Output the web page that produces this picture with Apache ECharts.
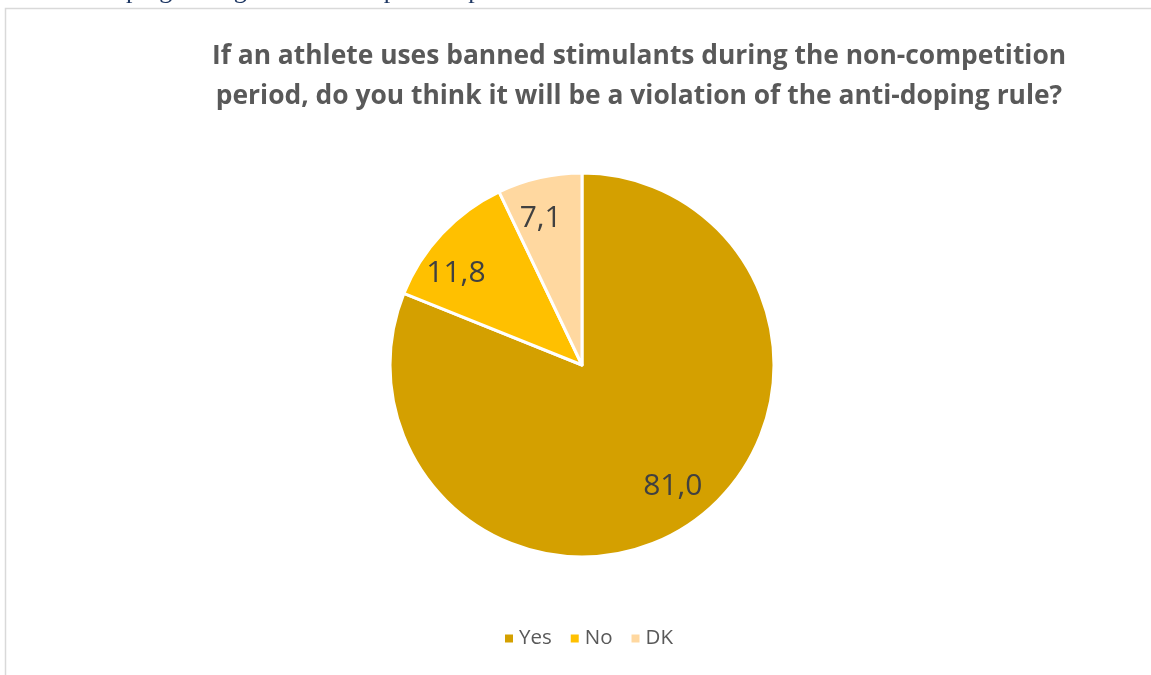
<!DOCTYPE html>
<html>
<head>
<meta charset="utf-8">
<script src="https://cdn.jsdelivr.net/npm/echarts@6/dist/echarts.min.js"></script>
<style>
html,body{margin:0;padding:0;background:#fff;}
#main{width:1151px;height:675px;}
</style>
</head>
<body>
<div id="main"></div>
<script>
const categories = ['Yes', 'No', 'DK'];
const values = [81.0, 11.8, 7.1];
const colors = ['#D4A000', '#FFC000', '#FFD8A0'];
const titleText = 'If an athlete uses banned stimulants during the non-competition\nperiod, do you think it will be a violation of the anti-doping rule?';
const captionText = 'Chart 5. Doping during the non-competitive period';

const chart = echarts.init(document.getElementById('main'));
const pieData = categories.map((c, i) => ({ name: c, value: values[i], itemStyle: { color: colors[i] } }));
const labelData = categories.map((c, i) => ({ name: c, value: values[i] }));
// label nudges (style only), mimicking Excel's best-fit placement
const labelNudge = { Yes: [4, -7], No: [-13, 14], DK: [-7, 5] };

chart.setOption({
  animation: false,
  backgroundColor: '#ffffff',
  graphic: [
    { type: 'rect', shape: { x: 5.5, y: 8.5, width: 1200, height: 700 }, style: { fill: 'none', stroke: '#d9d9d9', lineWidth: 1.5 }, z: 0 },
    { type: 'text', x: 4, y: 4, style: { text: captionText, font: '26px "Liberation Serif"', fill: '#1F3864', verticalAlign: 'bottom' }, z: 1 }
  ],
  title: {
    text: titleText,
    left: 634,
    textAlign: 'center',
    top: 31,
    textStyle: { fontFamily: 'Open Sans', fontWeight: 'bold', fontSize: 26.4, color: '#595959', lineHeight: 40 }
  },
  legend: {
    data: categories,
    bottom: 21,
    left: 498,
    icon: 'rect',
    itemWidth: 10,
    itemHeight: 10,
    itemGap: 17,
    textStyle: { fontFamily: 'Open Sans', fontSize: 20.5, color: '#595959' }
  },
  series: [
    {
      type: 'pie',
      center: [582, 365],
      radius: [0, 192],
      startAngle: 90,
      clockwise: true,
      data: pieData,
      label: { show: false },
      labelLine: { show: false },
      itemStyle: { borderColor: '#ffffff', borderWidth: 3 },
      emphasis: { disabled: true }
    },
    {
      type: 'pie',
      center: [582, 365],
      radius: [112, 192],
      startAngle: 90,
      clockwise: true,
      silent: true,
      data: labelData,
      itemStyle: { color: 'rgba(0,0,0,0)', borderWidth: 0 },
      label: {
        show: true,
        position: 'inside',
        fontFamily: 'Open Sans',
        fontSize: 30,
        color: '#404040',
        formatter: p => p.value.toFixed(1).replace('.', ',')
      },
      labelLayout: p => {
        const n = labelNudge[categories[p.dataIndex]];
        return { dx: n[0], dy: n[1] };
      },
      labelLine: { show: false },
      emphasis: { disabled: true }
    }
  ]
});
</script>
</body>
</html>
